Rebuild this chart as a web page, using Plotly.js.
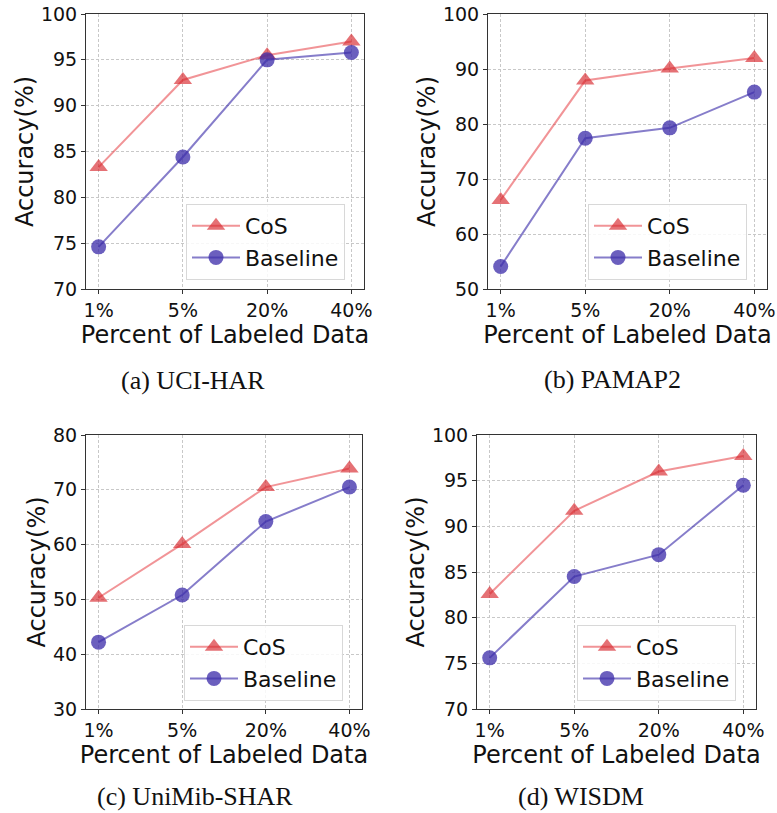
<!DOCTYPE html>
<html>
<head>
<meta charset="utf-8">
<script src="https://cdn.plot.ly/plotly-3.0.1.min.js"></script>
<style>html,body{margin:0;padding:0;background:#fff;}#chart{width:777px;height:813px;}</style>
</head>
<body>
<div id="chart"></div>
<script>
const categories = ['1%', '5%', '20%', '40%'];
const seriesNames = ['CoS', 'Baseline'];

const cosUCI = [83.3, 92.8, 95.5, 97.0];
const baseUCI = [74.6, 84.4, 95.0, 95.8];
const cosPAMAP = [66.2, 87.9, 90.1, 92.0];
const basePAMAP = [54.1, 77.4, 79.3, 85.8];
const cosUniMib = [50.3, 60.1, 70.5, 73.9];
const baseUniMib = [42.2, 50.8, 64.2, 70.5];
const cosWISDM = [82.6, 91.7, 96.0, 97.7];
const baseWISDM = [75.6, 84.5, 86.9, 94.5];

const ticksUCI = [70, 75, 80, 85, 90, 95, 100];
const ticksPAMAP = [50, 60, 70, 80, 90, 100];
const ticksUniMib = [30, 40, 50, 60, 70, 80];
const ticksWISDM = [70, 75, 80, 85, 90, 95, 100];

const subcaptions = ['(a) UCI-HAR', '(b) PAMAP2', '(c) UniMib-SHAR', '(d) WISDM'];
const xTitle = 'Percent of Labeled Data';
const yTitle = 'Accuracy(%)';

const W = 777, H = 813;
const panels = [
  {cos: cosUCI, base: baseUCI, ticks: ticksUCI, box: [86, 364, 14, 289], leg: [186, 204], cap: [193, 380]},
  {cos: cosPAMAP, base: basePAMAP, ticks: ticksPAMAP, box: [488, 767, 14, 289], leg: [588, 204], cap: [612, 379]},
  {cos: cosUniMib, base: baseUniMib, ticks: ticksUniMib, box: [86, 362, 435, 709], leg: [184, 625], cap: [195, 796]},
  {cos: cosWISDM, base: baseWISDM, ticks: ticksWISDM, box: [477, 756, 435, 709], leg: [577, 625], cap: [581, 796]}
];

const redMarker = 'rgba(215,40,45,0.66)';
const redLine = 'rgba(230,60,65,0.55)';
const blueMarker = 'rgba(60,45,170,0.76)';
const blueLine = 'rgba(60,45,170,0.62)';

const traces = [];
const layout = {
  width: W, height: H,
  margin: {l: 0, r: 0, t: 0, b: 0},
  paper_bgcolor: '#fff', plot_bgcolor: '#fff',
  font: {family: 'DejaVu Sans', color: '#111'},
  annotations: []
};

panels.forEach((p, i) => {
  const n = i === 0 ? '' : String(i + 1);
  const legName = 'legend' + n;
  traces.push({
    type: 'scatter', mode: 'lines+markers', name: seriesNames[0],
    x: categories, y: p.cos, xaxis: 'x' + n, yaxis: 'y' + n, legend: legName,
    line: {color: redLine, width: 2},
    marker: {symbol: 'triangle-up', size: 16, color: redMarker, line: {width: 0}}
  });
  traces.push({
    type: 'scatter', mode: 'lines+markers', name: seriesNames[1],
    x: categories, y: p.base, xaxis: 'x' + n, yaxis: 'y' + n, legend: legName,
    line: {color: blueLine, width: 2},
    marker: {symbol: 'circle', size: 15, color: blueMarker, line: {width: 0}}
  });
  const [x0, x1, y0, y1] = p.box;
  const common = {
    showline: true, mirror: true, linecolor: '#333', linewidth: 1,
    ticks: 'outside', ticklen: 4, tickcolor: '#333', tickwidth: 1,
    showgrid: true, gridcolor: '#c8c8c8', gridwidth: 1, griddash: '3px,2px',
    zeroline: false, automargin: false,
    tickfont: {family: 'DejaVu Sans', size: 19, color: '#111'}
  };
  layout['xaxis' + n] = Object.assign({}, common, {
    type: 'category', domain: [x0 / W, x1 / W], anchor: 'y' + n,
    range: [-0.15, 3.15], fixedrange: true,
    title: {text: xTitle, font: {family: 'DejaVu Sans', size: 24, color: '#111'}, standoff: 2}
  });
  layout['yaxis' + n] = Object.assign({}, common, {
    domain: [1 - y1 / H, 1 - y0 / H], anchor: 'x' + n,
    range: [p.ticks[0], p.ticks[p.ticks.length - 1]],
    tickvals: p.ticks, fixedrange: true,
    title: {text: yTitle, font: {family: 'DejaVu Sans', size: 24, color: '#111'}, standoff: 0}
  });
  layout[legName] = {
    x: p.leg[0] / W, y: 1 - p.leg[1] / H, xanchor: 'left', yanchor: 'top',
    xref: 'paper', yref: 'paper',
    bgcolor: 'rgba(255,255,255,0.85)', bordercolor: '#d8d8d8', borderwidth: 1,
    font: {family: 'DejaVu Sans', size: 22, color: '#111'},
    itemwidth: 48, tracegroupgap: 0
  };
  layout.annotations.push({
    text: subcaptions[i], xref: 'paper', yref: 'paper',
    x: p.cap[0] / W, y: 1 - p.cap[1] / H, xanchor: 'center', yanchor: 'middle',
    showarrow: false, font: {family: 'Liberation Serif', size: 26, color: '#111'}
  });
});

Plotly.newPlot('chart', traces, layout, {staticPlot: true, displayModeBar: false});
</script>
</body>
</html>
